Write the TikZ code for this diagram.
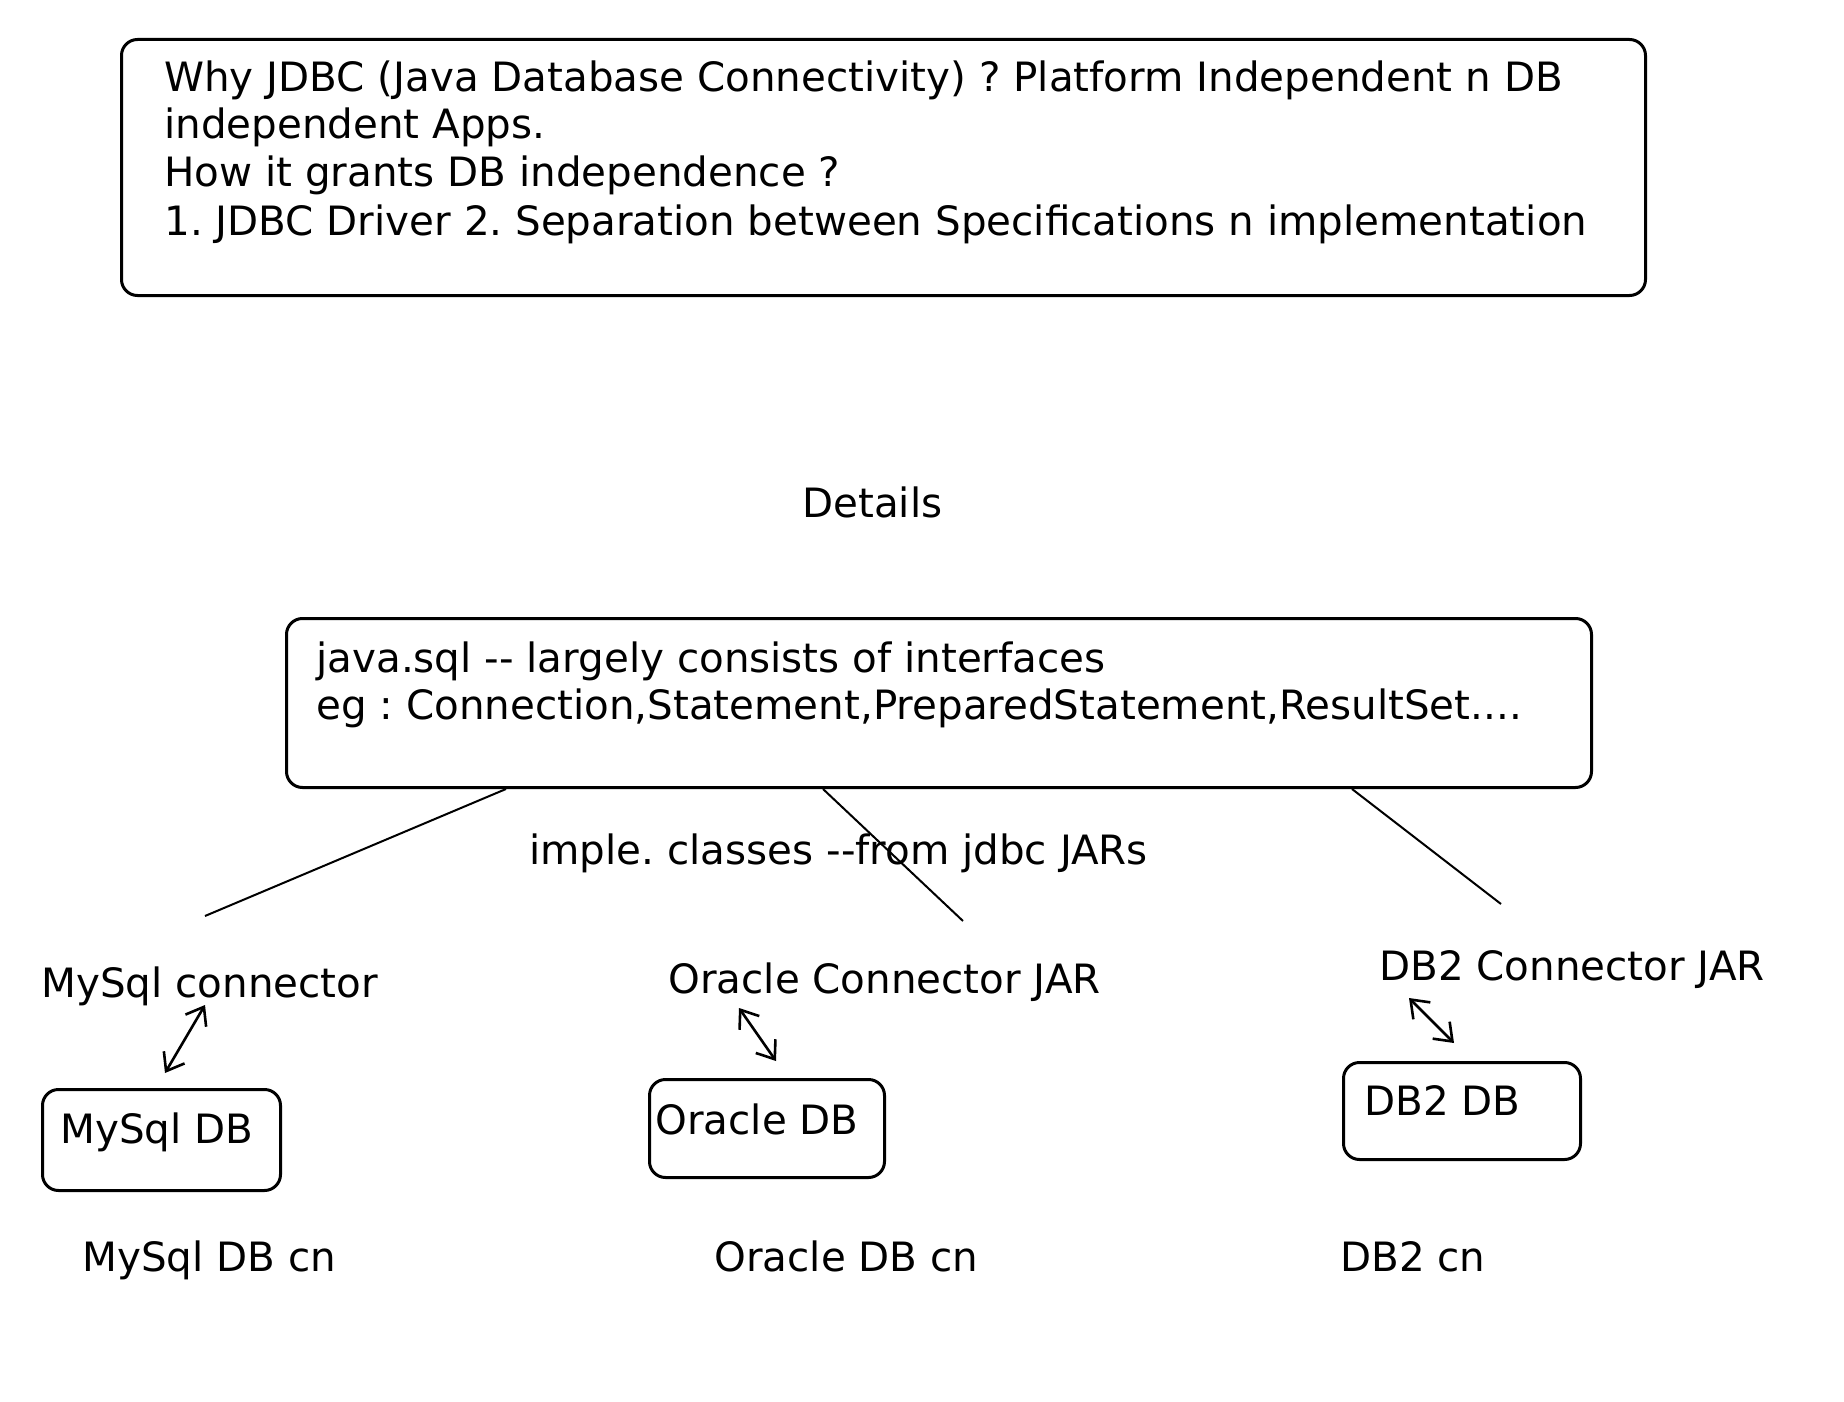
\documentclass[tikz,border=0pt]{standalone}
\usepackage{fontspec}
\setmainfont{DejaVu Sans}
\frenchspacing
\usetikzlibrary{arrows.meta}
\tikzset{
  box/.style={draw,line width=1.5pt,rounded corners=8pt,inner sep=0pt},
  txt/.style={anchor=base west,inner sep=0pt,font=\fontsize{20.2}{24}\selectfont},
  link/.style={line width=1pt},
  both/.style={{Straight Barb[length=8pt,width=12pt]}-{Straight Barb[length=8pt,width=12pt]},line width=1.3pt},
}
\begin{document}
\begin{tikzpicture}[x=0.5pt,y=-0.5pt]
\useasboundingbox (0,0) rectangle (1844,1402);
% question box
\node[box,anchor=north west,minimum width=762pt,minimum height=128pt] (why) at (120,38) {};
\node[txt] (why1) at (164,92) {Why JDBC (Java Database Connectivity) ? Platform Independent n DB};
\node[txt] (why2) at (164,139) {independent Apps.};
\node[txt] (why3) at (164,187) {How it grants DB independence ?};
\node[txt] (why4) at (164,235) {1. JDBC Driver 2. Separation between Specifications n implementation};
\node[txt] (details) at (802,517) {Details};
% java.sql box
\node[box,anchor=north west,minimum width=652.5pt,minimum height=84.5pt] (sql) at (285,617) {};
\node[txt] (sql1) at (316,672) {java.sql -{}- largely consists of interfaces};
\node[txt] (sql2) at (316,719) {eg : Connection,Statement,PreparedStatement,ResultSet....};
\node[txt] (imple) at (529,864) {imple. classes -{}-from jdbc JARs};
% connectors
\coordinate (myEnd) at (205,916);
\coordinate (orEnd) at (963,921);
\coordinate (dbEnd) at (1501,904);
\draw[link] ([xshift=110.5pt]sql.south west) -- (myEnd);
\draw[link] ([xshift=269pt]sql.south west) -- (orEnd);
\draw[link] ([xshift=533.5pt]sql.south west) -- (dbEnd);
% MySql
\node[txt] (mycon) at (41,997) {MySql connector};
\node[box,anchor=north west,minimum width=119pt,minimum height=50.5pt] (mydb) at (41,1088) {};
\node[txt] (mydbtxt) at (60,1143) {MySql DB};
\node[txt] (mycn) at (82,1271) {MySql DB cn};
\coordinate (my1) at (165,1073);
\coordinate (my2) at (205,1005);
\draw[both] (my1) -- (my2);
% Oracle
\node[txt] (orcon) at (668,993) {Oracle Connector JAR};
\node[box,anchor=north west,minimum width=117.5pt,minimum height=49pt] (ordb) at (648,1078) {};
\node[txt] (ordbtxt) at (655,1134) {Oracle DB};
\node[txt] (orcn) at (714,1271) {Oracle DB cn};
\coordinate (or1) at (739,1008);
\coordinate (or2) at (776,1061);
\draw[both] (or1) -- (or2);
% DB2
\node[txt] (dbcon) at (1379,980) {DB2 Connector JAR};
\node[box,anchor=north west,minimum width=118.5pt,minimum height=48.5pt] (dbdb) at (1342,1061) {};
\node[txt] (dbdbtxt) at (1364,1115) {DB2 DB};
\node[txt] (dbcn) at (1340,1271) {DB2 cn};
\coordinate (db1) at (1409,998);
\coordinate (db2) at (1454,1043);
\draw[both] (db1) -- (db2);
\end{tikzpicture}
\end{document}
